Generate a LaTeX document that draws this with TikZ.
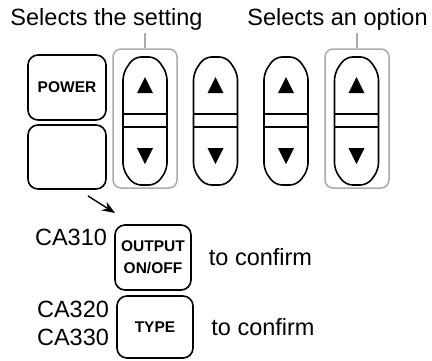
\documentclass[tikz,border=0pt]{standalone}
\usepackage{fontspec}
\setmainfont{Liberation Sans}
\usetikzlibrary{positioning, arrows.meta}

\definecolor{hlgray}{RGB}{170,170,170}

\begin{document}
\begin{tikzpicture}[%
		x=1pt, y=-1pt,
		key/.style={
			rectangle,
			rounded corners=10pt,
			line width=1.6pt,
			black,
			align=center,
			inner sep=0pt,
			font=\fontsize{15.5}{22}\selectfont\bfseries,
			draw
		},
		rockerbox/.style={
			rectangle,
			minimum width=44pt,
			minimum height=128pt,
			inner sep=0pt
		},
		rockerline/.style={
			line width=1.6pt,
			rounded corners=7pt
		},
		highlight/.style={
			rectangle,
			rounded corners=8pt,
			line width=1.5pt,
			hlgray,
			minimum width=64pt,
			minimum height=139pt,
			draw
		},
		bigtext/.style={
			inner sep=0pt,
			font=\fontsize{23.5}{28}\selectfont
		},
		pointer/.style={
			line width=1.5pt,
			hlgray,
			shorten >=3pt
		},
		keyarrow/.style={
			line width=1.4pt,
			-{Stealth[length=13pt,width=10pt]}
		}]

		\useasboundingbox (0,0) rectangle (432,360);

		% LABELS

		\node[bigtext, anchor=base] (lblset) at (106.5,25) {Selects the setting};
		\node[bigtext, anchor=base] (lblopt) at (337.5,25) {Selects an option};

		% KEYS

		\node[key, minimum width=78pt, minimum height=65pt] (power) at (67,87.5) {POWER};
		\node[key, minimum width=78pt, minimum height=64pt] (blank) at (67,157) {};

		% ROCKERS

		\foreach \cx [count=\i] in {145,215.5,286,356.5} {
			\node[rockerbox] (rocker\i) at (\cx,121) {};
			\draw[rockerline] (\cx-22,120) -- (\cx-22,73) -- (\cx-11,57) -- (\cx+11,57) -- (\cx+22,73) -- (\cx+22,120);
			\draw[rockerline] (\cx-22,120) -- (\cx-22,170) -- (\cx-11,185) -- (\cx+11,185) -- (\cx+22,170) -- (\cx+22,120);
			\draw[line width=1.6pt] (\cx-22,114) -- (\cx+22,114);
			\draw[line width=1.6pt] (\cx-22,127) -- (\cx+22,127);
			\fill (\cx,77) -- (\cx+8,93) -- (\cx-8,93) -- cycle;
			\fill (\cx,164) -- (\cx+8,148) -- (\cx-8,148) -- cycle;
		}

		\node[highlight] (hlset) at (145,118.5) {};
		\node[highlight] (hlopt) at (357,118.5) {};

		\draw[pointer] (hlset.north) -- (hlset.north |- lblset.south);
		\draw[pointer] (hlopt.north) -- (hlopt.north |- lblopt.south);

		% CONFIRM KEYS

		\node[key, minimum width=76pt, minimum height=65pt] (output) at (153,257.5) {OUTPUT\\ON/OFF};
		\node[key, minimum width=76pt, minimum height=62pt] (type) at (155,327) {TYPE};

		\node[bigtext, anchor=base] (ca310) at (71,245) {CA310};
		\node[bigtext, anchor=base] (ca320) at (73,317) {CA320};
		\node[bigtext, anchor=base] (ca330) at (73,345) {CA330};

		\node[bigtext, anchor=base] (conf1) at (260.5,265) {to confirm};
		\node[bigtext, anchor=base] (conf2) at (263,335) {to confirm};

		\coordinate (arrS) at (88,196);
		\coordinate (arrE) at (115,213);
		\draw[keyarrow] (arrS) -- (arrE);
\end{tikzpicture}
\end{document}
